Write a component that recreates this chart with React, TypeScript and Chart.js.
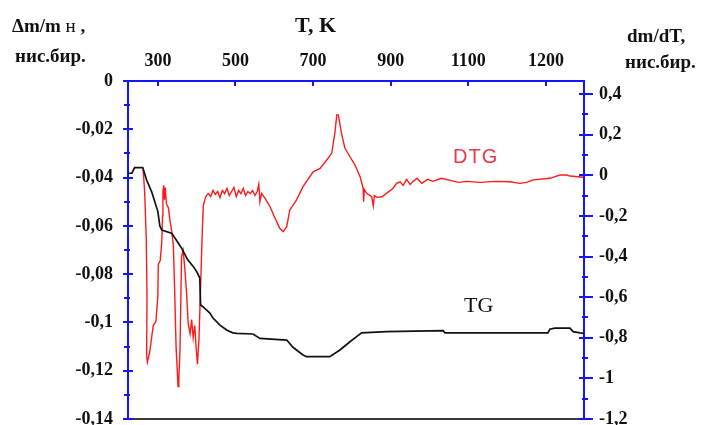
import React, { useEffect, useRef } from 'react';
import { Chart, registerables } from 'chart.js';

Chart.register(...registerables);

// ---- data ----
const tgTemp = [223, 233, 240, 261, 271, 284, 300, 305, 310, 335, 344, 361, 377, 392, 400, 408, 410, 416, 434, 442, 460, 477, 493, 503, 545, 563, 632, 648, 674, 683, 743, 769, 795, 812, 825, 889, 1035, 1040, 1305, 1310, 1323, 1362, 1370, 1388, 1398];
const tgMass = [-0.0382, -0.0382, -0.0359, -0.0359, -0.041, -0.0459, -0.0541, -0.06, -0.0617, -0.063, -0.065, -0.0692, -0.0741, -0.077, -0.079, -0.0816, -0.0928, -0.0935, -0.0961, -0.0982, -0.1011, -0.1031, -0.1043, -0.1045, -0.1048, -0.1066, -0.1073, -0.1103, -0.1135, -0.1142, -0.1142, -0.1114, -0.108, -0.1059, -0.1043, -0.1038, -0.1034, -0.1043, -0.1043, -0.1028, -0.1024, -0.1024, -0.1038, -0.1043, -0.1045];

const dtgTemp = [262, 266, 270, 272, 271, 273, 279, 288, 295, 300, 301, 306, 310, 312, 313, 315, 317, 319, 322, 327, 331, 336, 340, 343, 347, 352, 354, 357, 361, 365, 369, 374, 378, 383, 387, 391, 395, 399, 402, 406, 410, 414, 417, 421, 425, 430, 436, 442, 448, 454, 460, 466, 472, 478, 484, 490, 496, 502, 508, 514, 520, 526, 532, 538, 544, 550, 556, 560, 563, 567, 576, 589, 602, 614, 623, 632, 640, 657, 674, 700, 718, 735, 748, 756, 761, 765, 773, 782, 795, 808, 821, 829, 830, 832, 838, 851, 855, 858, 864, 877, 889, 906, 915, 924, 932, 941, 950, 958, 968, 980, 995, 1009, 1030, 1053, 1075, 1096, 1130, 1170, 1207, 1233, 1250, 1267, 1310, 1336, 1353, 1362, 1396];
const dtgRate = [0.03, -0.085, -0.31, -0.59, -0.885, -0.92, -0.87, -0.74, -0.72, -0.59, -0.44, -0.42, -0.33, -0.2, -0.08, -0.05, -0.12, -0.06, -0.14, -0.16, -0.22, -0.28, -0.35, -0.55, -0.85, -1.04, -1.0, -0.86, -0.4, -0.37, -0.45, -0.58, -0.73, -0.78, -0.71, -0.8, -0.74, -0.86, -0.93, -0.8, -0.55, -0.3, -0.15, -0.12, -0.1, -0.09, -0.105, -0.075, -0.095, -0.08, -0.11, -0.075, -0.09, -0.065, -0.1, -0.08, -0.06, -0.105, -0.075, -0.09, -0.065, -0.1, -0.08, -0.09, -0.075, -0.1, -0.08, -0.045, -0.13, -0.09, -0.113, -0.155, -0.212, -0.261, -0.278, -0.253, -0.171, -0.122, -0.056, 0.017, 0.034, 0.075, 0.108, 0.207, 0.297, 0.297, 0.207, 0.133, 0.091, 0.05, -0.007, -0.064, -0.13, -0.07, -0.089, -0.106, -0.15, -0.1, -0.109, -0.106, -0.089, -0.064, -0.04, -0.032, -0.05, -0.02, -0.045, -0.03, -0.015, -0.04, -0.02, -0.03, -0.015, -0.025, -0.035, -0.03, -0.035, -0.03, -0.032, -0.04, -0.035, -0.023, -0.015, 0.001, 0.001, -0.004, -0.01];

const xTickValues = [300, 500, 700, 900, 1100, 1300];
const xTickLabels = ['300', '500', '700', '900', '1100', '1200'];
const leftTickValues = [0, -0.02, -0.04, -0.06, -0.08, -0.1, -0.12, -0.14];
const rightTickValues = [0.4, 0.2, 0, -0.2, -0.4, -0.6, -0.8, -1, -1.2];

const AXIS_BLUE = '#1414ff';
const fmt = (v: number) => String(Math.round(v * 100) / 100).replace('.', ',');
const tickFont = { family: '"Liberation Serif", "Times New Roman", serif', size: 18, weight: 'bold' as const };

const decorPlugin = {
  id: 'decor',
  afterDraw(chart: any) {
    const { ctx, chartArea } = chart;
    const { left, right, top, bottom } = chartArea;
    const sx = chart.scales.x, sy = chart.scales.y, sy2 = chart.scales.y2;
    ctx.save();
    ctx.strokeStyle = '#3a3a3a';
    ctx.lineWidth = 2;
    ctx.beginPath();
    ctx.moveTo(left, bottom);
    ctx.lineTo(right, bottom);
    ctx.stroke();
    ctx.strokeStyle = AXIS_BLUE;
    ctx.lineWidth = 2;
    ctx.beginPath();
    xTickValues.forEach((v) => {
      const px = Math.round(sx.getPixelForValue(v));
      ctx.moveTo(px, top);
      ctx.lineTo(px, top + 5);
    });
    for (let i = 0; i < leftTickValues.length; i++) {
      const v = leftTickValues[i];
      const py = Math.round(sy.getPixelForValue(v));
      ctx.moveTo(left - 5, py);
      ctx.lineTo(left + 5, py);
      if (i < leftTickValues.length - 1) {
        const m = (v + leftTickValues[i + 1]) / 2;
        const pm = Math.round(sy.getPixelForValue(m));
        ctx.moveTo(left - 4, pm);
        ctx.lineTo(left + 2, pm);
      }
    }
    for (let i = 0; i < rightTickValues.length; i++) {
      const v = rightTickValues[i];
      const py = Math.round(sy2.getPixelForValue(v));
      ctx.moveTo(right - 5, py);
      ctx.lineTo(right + 9, py);
      if (i < rightTickValues.length - 1) {
        const m = (v + rightTickValues[i + 1]) / 2;
        const pm = Math.round(sy2.getPixelForValue(m));
        ctx.moveTo(right - 2, pm);
        ctx.lineTo(right + 4, pm);
      }
    }
    ctx.stroke();
    ctx.restore();
  },
};

const fixVertical = (s: any) => {
  s.width = 128;
  s.paddingTop = 0;
  s.paddingBottom = 0;
};

export default function App() {
  const canvasRef = useRef<HTMLCanvasElement | null>(null);

  useEffect(() => {
    if (!canvasRef.current) return;
    const chart = new Chart(canvasRef.current, {
      type: 'line',
      data: {
        datasets: [
          {
            label: 'TG',
            data: tgTemp.map((t, i) => ({ x: t, y: tgMass[i] })),
            xAxisID: 'x',
            yAxisID: 'y',
            borderColor: '#111111',
            borderWidth: 1.7,
            pointRadius: 0,
            tension: 0,
            fill: false,
          },
          {
            label: 'DTG',
            data: dtgTemp.map((t, i) => ({ x: t, y: dtgRate[i] })),
            xAxisID: 'x',
            yAxisID: 'y2',
            borderColor: '#ff1a1a',
            borderWidth: 1.4,
            pointRadius: 0,
            tension: 0,
            fill: false,
          },
        ],
      },
      options: {
        responsive: false,
        animation: false,
        devicePixelRatio: 1,
        layout: { padding: { top: 0, left: 0, right: 0, bottom: 6 } },
        plugins: { legend: { display: false }, tooltip: { enabled: false } },
        scales: {
          x: {
            type: 'linear',
            position: 'top',
            min: 223,
            max: 1398,
            afterBuildTicks: (s: any) => {
              s.ticks = xTickValues.map((v) => ({ value: v }));
            },
            afterFit: (s: any) => {
              s.height = 81;
              s.paddingLeft = 0;
              s.paddingRight = 0;
            },
            ticks: {
              callback: (v: any) => {
                const i = xTickValues.indexOf(Number(v));
                return i >= 0 ? xTickLabels[i] : '';
              },
              font: tickFont,
              color: '#111',
              padding: 9,
              maxRotation: 0,
              autoSkip: false,
            },
            grid: { display: false, drawTicks: false },
            border: { display: true, color: AXIS_BLUE, width: 2 },
          },
          y: {
            type: 'linear',
            position: 'left',
            min: -0.14,
            max: 0,
            afterBuildTicks: (s: any) => {
              s.ticks = leftTickValues.map((v) => ({ value: v }));
            },
            afterFit: fixVertical,
            ticks: {
              callback: (v: any) => fmt(Number(v)),
              font: tickFont,
              color: '#111',
              padding: 15,
              autoSkip: false,
            },
            grid: { display: false, drawTicks: false },
            border: { display: true, color: AXIS_BLUE, width: 2 },
          },
          y2: {
            type: 'linear',
            position: 'right',
            min: -1.2,
            max: 0.464,
            afterBuildTicks: (s: any) => {
              s.ticks = rightTickValues.map((v) => ({ value: v }));
            },
            afterFit: fixVertical,
            ticks: {
              callback: (v: any) => fmt(Number(v)),
              font: tickFont,
              color: '#111',
              padding: 15,
              autoSkip: false,
            },
            grid: { display: false, drawTicks: false },
            border: { display: true, color: AXIS_BLUE, width: 2 },
          },
        },
      },
      plugins: [decorPlugin],
    } as any);
    return () => chart.destroy();
  }, []);

  const serifBold: React.CSSProperties = {
    position: 'absolute',
    fontFamily: '"Liberation Serif", "Times New Roman", serif',
    fontWeight: 'bold',
    fontSize: 19,
    lineHeight: '20px',
    whiteSpace: 'nowrap',
    color: '#111',
  };

  return (
    <div style={{ position: 'fixed', left: 0, top: 0, width: 712, height: 425, background: '#fff' }}>
      <canvas ref={canvasRef} width={712} height={425} style={{ display: 'block', width: 712, height: 425 }} />
      <div style={{ ...serifBold, left: 12, top: 16 }}>Δm/m <span style={{ fontWeight: 'normal' }}>н</span> ,</div>
      <div style={{ ...serifBold, left: 15, top: 46 }}>нис.бир.</div>
      <div style={{ ...serifBold, left: 295, top: 14, fontSize: 22, lineHeight: '22px' }}>T, K</div>
      <div style={{ ...serifBold, left: 627, top: 26 }}>dm/dT,</div>
      <div style={{ ...serifBold, left: 625, top: 52 }}>нис.бир.</div>
      <div style={{ position: 'absolute', left: 453, top: 146, fontFamily: '"Liberation Sans", Arial, sans-serif', fontSize: 20, lineHeight: '20px', letterSpacing: 1, color: '#ec3a44' }}>DTG</div>
      <div style={{ position: 'absolute', left: 464, top: 294, fontFamily: '"Liberation Serif", "Times New Roman", serif', fontSize: 22, lineHeight: '22px', color: '#111' }}>TG</div>
    </div>
  );
}
